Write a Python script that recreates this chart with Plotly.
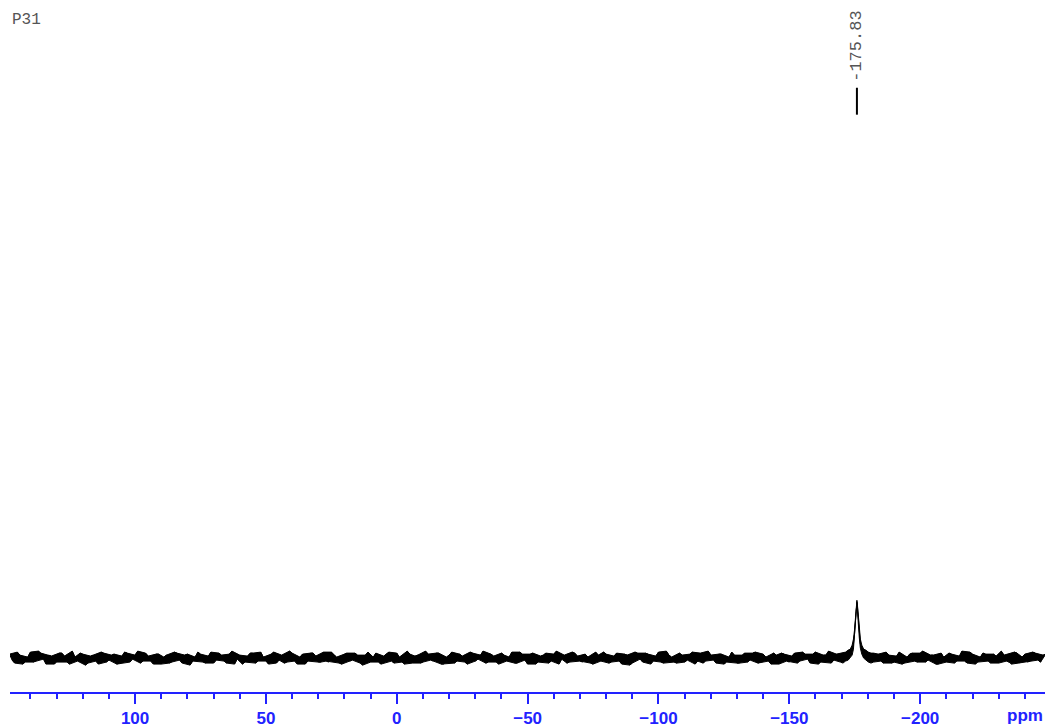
import numpy as np
import plotly.graph_objects as go

# ---- data (intensities relative to baseline) ----
nucleus_label = "P31"
peak_ppm_label = -175.83
peak_label_text = "-175.83"

tick_vals = [100, 50, 0, -50, -100, -150, -200]
x_range = [147.8, -247.7]

# baseline noise, left part: 148 ppm -> -168 ppm, readings every 2 ppm
noise_left_start, noise_left_step = 148.0, -2.0
noise_left = [
    4, -5, 3, -4, 6, -3, 5, -6, 2, -4,
    5, -4, 7, -3, 4, -5, 3, -6, 5, -2,
    4, -5, 6, -4, 3, -5, 5, -3, 4, -6,
    3, -4, 5, -5, 4, -3, 6, -4, 2, -5,
    5, -3, 4, -6, 3, -4, 5, -5, 6, -3,
    4, -5, 3, -4, 5, -6, 4, -3, 5, -4,
    6, -4, 3, -5, 4, -3, 5, -5, 3, -4,
    5, -6, 4, -3, 5, -4, 7, -5, 3, -4,
    4, -3, 5, -6, 3, -5, 4, -4, 6, -3,
    3, -5, 4, -4, 5, -3, 6, -5, 4, -6,
    5, -4, 3, -5, 4, -6, 3, -4, 5, -3,
    4, -5, 6, -3, 4, -4, 5, -6, 3, -5,
    5, -4, 4, -3, 6, -5, 3, -4, 5, -4,
    4, -6, 5, -3, 3, -5, 4, -4, 6, -5,
    3, -4, 5, -5, 4, -3, 5, -6, 4, -4,
    5, -3, 4, -5, 6, -4, 3, -5, 4,
]
# readings half-way between the above (147 ppm -> -167 ppm)
noise_left_mid = [
    -2, 6, -6, 1, -4, 7, -1, 3, -6, 5,
    2, -6, 1, 5, -7, 2, -3, 6, -4, 3,
    -6, 2, 5, -1, 7, -3, 2, -6, 4, 1,
    -5, 6, -2, 3, -7, 1, 4, -5, 6, -2,
    3, -5, 7, -1, -6, 2, 5, -3, 1, -6,
    6, -2, -5, 7, -3, 1, -6, 5, 2, -4,
    -3, 6, 1, -6, 5, -2, 3, -7, 6, 1,
    -4, 2, 6, -5, 1, -6, 4, 2, -5, 7,
    -2, 5, -6, 1, 6, -3, 2, -6, 5, -1,
    7, -4, 2, -6, 3, 1, -5, 6, -2, 4,
    -6, 2, 5, -3, 7, -1, -5, 6, 2, -4,
    1, -6, 3, 6, -5, 2, -3, 4, -7, 6,
    -1, 5, -6, 2, -4, 7, 1, -5, 3, -2,
    6, -3, -5, 7, -2, 4, -6, 1, 3, -5,
    5, -2, 6, -4, 1, -6, 3, 5, -3, 2,
    -5, 6, -1, 4, -6, 3, 7, -2,
]

# peak region: upper / lower edge of the trace
peak_ppm = [-169.5, -170.5, -171.5, -172.5, -173.3, -174.0, -174.5, -174.9,
            -175.25, -175.55, -175.83, -176.1, -176.4, -176.75, -177.15,
            -177.7, -178.4, -179.2, -180.2, -181.2, -182.2]
peak_hi = [5, 6, 6, 8, 9, 13, 19, 28, 38, 50, 58, 51, 39, 28, 19, 13, 9, 8, 6, 5, 5]
peak_lo = [-4, -5, -3, -2, 0, 3, 9, 19, 33, 47, 55, 47, 34, 20, 10, 4, 0, -2, -4, -5, -4]

# baseline noise, right part: -184 ppm -> -248 ppm, readings every 2 ppm
noise_right_start, noise_right_step = -184.0, -2.0
noise_right = [
    4, -5, 3, -4, 6, -5, 4, -3, 5, -4,
    3, -6, 5, -4, 4, -3, 7, -5, 4, -4,
    5, -3, 4, -5, 3, -4, 6, -5, 4, -3,
    5, -4, 4,
]
noise_right_mid = [
    -3, 6, -5, 2, -6, 1, 5, -4, 7, -2,
    3, -6, 1, 5, -5, 2, -3, 6, -6, 1,
    4, -5, 2, 7, -3, -6, 5, 1, -4, 6,
    -2, 3,
]


def interleave(start, step, main, mid):
    n = len(main)
    x = np.empty(n + len(mid))
    y = np.empty(n + len(mid))
    x[0::2] = start + step * np.arange(n)
    x[1::2] = start + step * (np.arange(len(mid)) + 0.5)
    y[0::2] = main
    y[1::2] = mid
    return x, y


x_left, y_left = interleave(noise_left_start, noise_left_step, noise_left, noise_left_mid)
x_right, y_right = interleave(noise_right_start, noise_right_step, noise_right, noise_right_mid)

# band polygon: upper envelope (positive readings + peak top edge) forward,
# lower envelope (negative readings + peak bottom edge) backward
up_l, up_r = y_left >= 0, y_right >= 0
upper_x = np.concatenate([x_left[up_l], peak_ppm, x_right[up_r]])
upper_y = np.concatenate([y_left[up_l], peak_hi, y_right[up_r]])
lower_x = np.concatenate([x_left[~up_l], peak_ppm, x_right[~up_r]])
lower_y = np.concatenate([y_left[~up_l], peak_lo, y_right[~up_r]])
band_x = np.concatenate([upper_x, lower_x[::-1]])
band_y = np.concatenate([upper_y, lower_y[::-1]])

# trace through all readings
trace_x = np.concatenate([x_left, peak_ppm, x_right])
trace_y = np.concatenate([y_left, (np.array(peak_hi) + np.array(peak_lo)) / 2, y_right])

BLUE = "#2222ff"

fig = go.Figure()
fig.add_trace(go.Scatter(x=band_x, y=band_y, mode="lines", fill="toself",
                         fillcolor="black", line=dict(color="black", width=1.0),
                         hoverinfo="skip", showlegend=False))
fig.add_trace(go.Scatter(x=trace_x, y=trace_y, mode="lines",
                         line=dict(color="black", width=1.0),
                         hoverinfo="skip", showlegend=False))

fig.update_layout(
    width=1046, height=728,
    margin=dict(l=10, r=1, t=0, b=34),
    paper_bgcolor="white", plot_bgcolor="white",
    showlegend=False,
    xaxis=dict(
        range=x_range, showgrid=False, zeroline=False,
        showline=True, linecolor=BLUE, linewidth=1.5,
        ticks="outside", ticklen=10, tickwidth=1.5, tickcolor=BLUE,
        tickvals=tick_vals,
        tickfont=dict(family="Liberation Sans, Arial", size=17, color=BLUE, weight="bold"),
        minor=dict(dtick=10, ticks="outside", ticklen=5, tickwidth=1.5, tickcolor=BLUE, showgrid=False),
    ),
    yaxis=dict(visible=False, range=[-34, 660], showgrid=False, zeroline=False),
)

# ppm axis title
fig.add_annotation(text="ppm", xref="paper", yref="paper", x=1.0, y=-0.0346,
                   xanchor="right", yanchor="middle", showarrow=False,
                   font=dict(family="Liberation Sans, Arial", size=17, color=BLUE, weight="bold"))

# nucleus label
fig.add_annotation(text=nucleus_label, xref="paper", yref="paper", x=0.0, y=1 - 20.5 / 694,
                   xanchor="left", yanchor="middle", showarrow=False,
                   font=dict(family="Liberation Mono, Courier New", size=16, color="#555555"))

# peak label
fig.add_annotation(text=peak_label_text, xref="x", yref="paper", x=peak_ppm_label,
                   y=1 - 46 / 694, xanchor="center", yanchor="middle", textangle=-90,
                   showarrow=False,
                   font=dict(family="Liberation Mono, Courier New", size=17, color="#555555"))
fig.add_shape(type="line", xref="x", yref="y", x0=peak_ppm_label, x1=peak_ppm_label,
              y0=545, y1=572, line=dict(color="black", width=2))

fig.write_html("out.html", config={"displayModeBar": False},
               post_script="document.body.style.margin='0';")
